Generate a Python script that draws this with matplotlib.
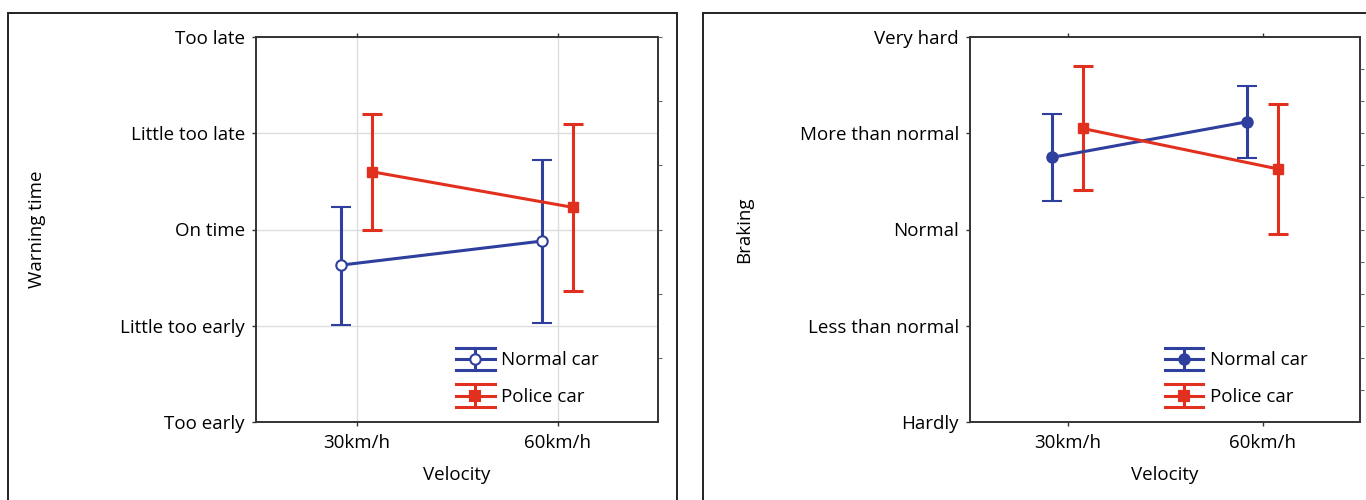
import numpy as np
import matplotlib
matplotlib.use("Agg")
import matplotlib.pyplot as plt
from matplotlib.lines import Line2D
from matplotlib.patches import Rectangle
from matplotlib.legend_handler import HandlerBase
from matplotlib.container import ErrorbarContainer

plt.rcParams['font.family'] = ['Open Sans', 'DejaVu Sans']

velocity = ['30km/h', '60km/h']
series = ['Normal car', 'Police car']

warn_labels = ['Too early', 'Little too early', 'On time', 'Little too late', 'Too late']
warn_normal = [1.63, 1.88]
warn_normal_lo = [1.01, 1.03]
warn_normal_hi = [2.23, 2.72]
warn_police = [2.60, 2.23]
warn_police_lo = [1.99, 1.36]
warn_police_hi = [3.20, 3.10]

brake_labels = ['Hardly', 'Less than normal', 'Normal', 'More than normal', 'Very hard']
brake_normal = [2.75, 3.12]
brake_normal_lo = [2.30, 2.74]
brake_normal_hi = [3.20, 3.49]
brake_police = [3.05, 2.63]
brake_police_lo = [2.41, 1.95]
brake_police_hi = [3.70, 3.30]

BLUE = '#2f3f9e'
RED = '#e2301f'
SPINE = '#333333'
FS = 13.5


class ErrHandler(HandlerBase):
    # legend key: long caps, centre line, vertical bar, marker
    def create_artists(self, legend, orig_handle, xdescent, ydescent,
                       width, height, fontsize, trans):
        dl = orig_handle[0]
        c = dl.get_color()
        x0, x1 = -xdescent, -xdescent + width
        ym = -ydescent + height / 2
        d = 0.6 * fontsize
        arts = []
        for y in (ym - d, ym, ym + d):
            arts.append(Line2D([x0, x1], [y, y], color=c, lw=2.2))
        xm = (x0 + x1) / 2
        arts.append(Line2D([xm, xm], [ym - d, ym + d], color=c, lw=2.2))
        arts.append(Line2D([xm], [ym], marker=dl.get_marker(), ms=dl.get_markersize(),
                           mfc=dl.get_markerfacecolor(), mec=c, mew=1.5, lw=0))
        for a in arts:
            a.set_transform(trans)
        return arts


def panel(ax, labels, ylab, ylab_x, normal, nlo, nhi, police, plo, phi, nfill, grid, minor_step):
    x = np.arange(len(velocity))
    off = 0.077
    n = np.array(normal)
    p = np.array(police)
    e1 = ax.errorbar(x - off, n, yerr=[n - np.array(nlo), np.array(nhi) - n],
                     color=BLUE, lw=2.2, elinewidth=2.2, capsize=7.5, capthick=2.2,
                     marker='o', ms=7.5, mfc=nfill, mec=BLUE, mew=1.5, label=series[0], zorder=3)
    e2 = ax.errorbar(x + off, p, yerr=[p - np.array(plo), np.array(phi) - p],
                     color=RED, lw=2.2, elinewidth=2.2, capsize=7.5, capthick=2.2,
                     marker='s', ms=6.5, mfc=RED, mec=RED, label=series[1], zorder=3)
    ax.set_xlim(-0.5, 1.5)
    ax.set_ylim(0, 4)
    ax.set_xticks(x)
    ax.set_xticklabels(velocity, fontsize=FS)
    ax.set_yticks(range(5))
    ax.set_yticklabels(labels, fontsize=FS)
    ax.tick_params(axis='both', length=3, width=1, color=SPINE, top=True, pad=5)
    ax.tick_params(axis='x', pad=6)
    ax.set_xlabel('Velocity', fontsize=FS)
    ax.xaxis.set_label_coords(0.5, -0.115)
    ax.set_ylabel(ylab, fontsize=FS)
    ax.yaxis.set_label_coords(ylab_x, 0.5)
    for s in ax.spines.values():
        s.set_color(SPINE)
        s.set_linewidth(1.4)
    if grid:
        ax.grid(True, color='#dddddd', lw=1)
        ax.set_axisbelow(True)
    tw = ax.twinx()
    tw.set_ylim(0, 4)
    tw.set_yticks(np.arange(minor_step, 4, minor_step))
    tw.set_yticklabels([])
    tw.tick_params(axis='y', length=3, color='#666666')
    tw.spines[:].set_visible(False)
    ax.legend(handles=[e1, e2], handler_map={ErrorbarContainer: ErrHandler()},
              loc='lower left', bbox_to_anchor=(0.47, 0.012), frameon=False,
              fontsize=FS, handlelength=2.05, handletextpad=0.35, labelspacing=1.0,
              borderaxespad=0.2)


fig = plt.figure(figsize=(13.66, 5.0), dpi=100)
fig.patch.set_facecolor('white')

for x0, x1 in [(8, 677), (703, 1400)]:
    fig.add_artist(Rectangle((x0 / 1366, -0.2), (x1 - x0) / 1366, 1.2 - 13 / 500,
                             transform=fig.transFigure, fill=False,
                             edgecolor='#222222', lw=1.4, clip_on=False))

ax1 = fig.add_axes([256 / 1366, 1 - 422 / 500, 402 / 1366, 385 / 500])
panel(ax1, warn_labels, 'Warning time', -0.522, warn_normal, warn_normal_lo, warn_normal_hi,
      warn_police, warn_police_lo, warn_police_hi, 'white', True, 2 / 3)

ax2 = fig.add_axes([970 / 1366, 1 - 422 / 500, 390 / 1366, 385 / 500])
panel(ax2, brake_labels, 'Braking', -0.556, brake_normal, brake_normal_lo, brake_normal_hi,
      brake_police, brake_police_lo, brake_police_hi, BLUE, False, 1 / 3)

fig.savefig('out.png', dpi=100)
